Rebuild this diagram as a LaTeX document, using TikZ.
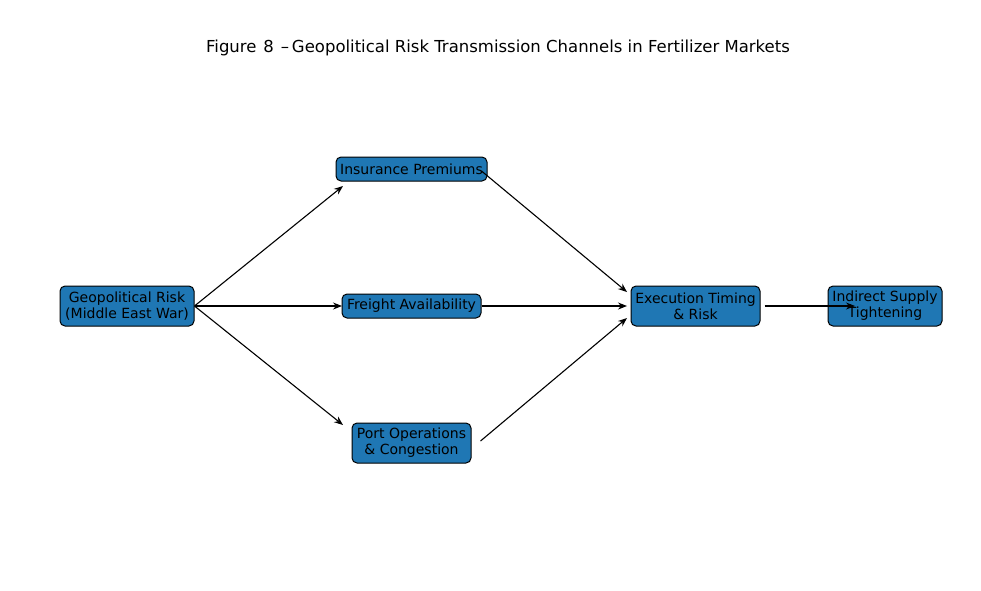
\documentclass[tikz,border=0pt]{standalone}
\usepackage{fontspec}
\setmainfont{DejaVu Sans}
\usetikzlibrary{arrows.meta}
\begin{document}
\begin{tikzpicture}[x=1pt,y=-1pt,
  box/.style={draw=black,fill={rgb,255:red,31;green,119;blue,180},rounded corners=5pt,
    align=center,font=\fontsize{14}{16}\selectfont,inner sep=0pt,line width=1pt},
  arr/.style={-{Stealth[length=9pt,width=7pt,inset=3pt]},line width=1.1pt}]
\useasboundingbox (0,0) rectangle (981,590);
\node[font=\fontsize{16.5}{19}\selectfont] (t) at (498,48) {Figure\hspace{7pt}8\hspace{7pt}–\,Geopolitical Risk Transmission Channels in Fertilizer Markets};
\node[box,minimum width=134pt,minimum height=40pt] (geo) at (127,306) {Geopolitical Risk\\(Middle East War)};
\node[box,minimum width=151pt,minimum height=24pt] (ins) at (411.5,169) {Insurance Premiums};
\node[box,minimum width=139pt,minimum height=24pt] (fre) at (411.5,306) {Freight Availability};
\node[box,minimum width=119pt,minimum height=40pt] (port) at (411.5,443) {Port Operations\\\& Congestion};
\node[box,minimum width=129pt,minimum height=40pt] (exe) at (695.5,306) {Execution Timing\\\& Risk};
\node[box,minimum width=114pt,minimum height=40pt] (ind) at (885,306) {Indirect Supply\\Tightening};
\coordinate (a1) at (343,186);
\coordinate (a2) at (342,306);
\coordinate (a3) at (343,425);
\coordinate (b1) at (627,292);
\coordinate (b2) at (627,306);
\coordinate (b3) at (627,318);
\coordinate (c1) at (855,306);
\draw[arr] (geo.east) -- (a1);
\draw[arr] (geo.east) -- (a2);
\draw[arr] (geo.east) -- (a3);
\draw[arr] (ins.east) ++(-6,2) -- (b1);
\draw[arr] (fre.east) -- (b2);
\draw[arr] (port.east) ++(9,-2) -- (b3);
\draw[arr] (exe.east) ++(4,0) -- (c1);
\end{tikzpicture}
\end{document}
